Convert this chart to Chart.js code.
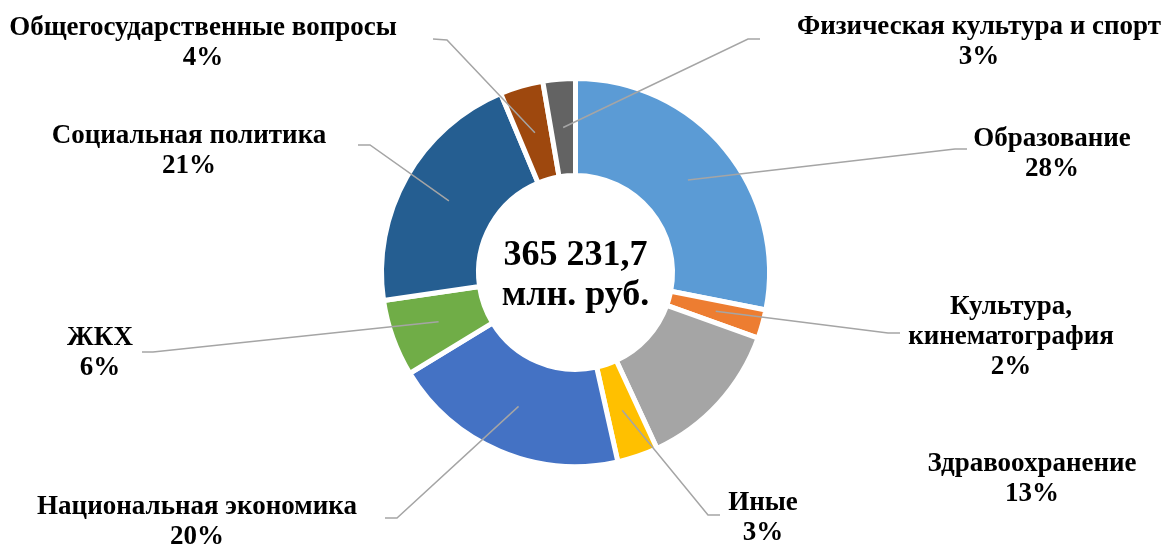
<!DOCTYPE html>
<html lang="ru">
  <head>
    <meta charset="UTF-8" />
    <title>Расходы бюджета</title>
    <script src="https://cdn.jsdelivr.net/npm/chart.js"></script>
    <style>
      html, body {
        margin: 0;
        padding: 0;
        background: #fff;
      }
      #wrap {
        width: 1163px;
        height: 545px;
        position: relative;
      }
    </style>
  </head>
  <body>
    <div id="wrap"><canvas id="budget-chart"></canvas></div>

    <script>
      // данные (доли расходов, %)
      const categories = [
        "Образование",
        "Культура, кинематография",
        "Здравоохранение",
        "Иные",
        "Национальная экономика",
        "ЖКХ",
        "Социальная политика",
        "Общегосударственные вопросы",
        "Физическая культура и спорт",
      ];
      const shares = [28.1, 2.4, 12.6, 3.4, 19.8, 6.4, 21.0, 3.6, 2.7];
      const colors = [
        "#5B9BD5", "#ED7D31", "#A5A5A5", "#FFC000", "#4472C4",
        "#70AD47", "#255E91", "#9E480E", "#636363",
      ];
      const totalText = ["365 231,7", "млн. руб."];

      // размещение подписей: строки, x центра, базовая линия, излом выноски
      const labelLayout = [
        { lines: ["Образование"], x: 1052, y: 146, elbow: [955, 149], end: [967, 149] },
        { lines: ["Культура,", "кинематография"], x: 1011, y: 314, elbow: [888, 333], end: [900, 333] },
        { lines: ["Здравоохранение"], x: 1032, y: 471, elbow: null },
        { lines: ["Иные"], x: 763, y: 510, elbow: [708, 515], end: [720, 515] },
        { lines: ["Национальная экономика"], x: 197, y: 514, elbow: [397, 518], end: [385, 518] },
        { lines: ["ЖКХ"], x: 100, y: 345, elbow: [153, 352], end: [142, 352] },
        { lines: ["Социальная политика"], x: 189, y: 143, elbow: [370, 145], end: [358, 145] },
        { lines: ["Общегосударственные вопросы"], x: 203, y: 35, elbow: [447, 40], end: [433, 39] },
        { lines: ["Физическая культура и спорт"], x: 979, y: 34, elbow: [748, 39], end: [760, 39] },
      ];

      const labelFont = "bold 27px 'Liberation Serif', 'Times New Roman', serif";
      const lineHeight = 30;

      const calloutPlugin = {
        id: "callouts",
        afterDatasetsDraw(chart) {
          const ctx = chart.ctx;
          const arcs = chart.getDatasetMeta(0).data;
          const total = shares.reduce((a, b) => a + b, 0);
          ctx.save();

          // выноски
          ctx.strokeStyle = "#A5A5A5";
          ctx.lineWidth = 1.5;
          arcs.forEach((arc, i) => {
            const l = labelLayout[i];
            if (!l.elbow) return;
            const p = arc.tooltipPosition();
            ctx.beginPath();
            ctx.moveTo(p.x, p.y);
            ctx.lineTo(l.elbow[0], l.elbow[1]);
            ctx.lineTo(l.end[0], l.end[1]);
            ctx.stroke();
          });

          // подписи
          ctx.fillStyle = "#000";
          ctx.font = labelFont;
          ctx.textAlign = "center";
          ctx.textBaseline = "alphabetic";
          labelLayout.forEach((l, i) => {
            const pct = Math.round((shares[i] / total) * 100) + "%";
            const lines = l.lines.concat([pct]);
            lines.forEach((t, k) => ctx.fillText(t, l.x, l.y + k * lineHeight));
          });

          // итог в центре
          const c = arcs[0];
          ctx.font = "bold 36px 'Liberation Serif', 'Times New Roman', serif";
          ctx.fillText(totalText[0], c.x, c.y - 8);
          ctx.fillText(totalText[1], c.x, c.y + 32);
          ctx.restore();
        },
      };

      new Chart(document.getElementById("budget-chart"), {
        type: "doughnut",
        data: {
          labels: categories,
          datasets: [
            {
              data: shares,
              backgroundColor: colors,
              borderColor: "#fff",
              borderWidth: 5,
              hoverOffset: 0,
            },
          ],
        },
        options: {
          responsive: true,
          maintainAspectRatio: false,
          animation: false,
          radius: 194,
          cutout: "50%",
          layout: { padding: { left: 0, right: 12, top: 0, bottom: 0 } },
          plugins: {
            legend: { display: false },
            tooltip: { enabled: false },
          },
        },
        plugins: [calloutPlugin],
      });
    </script>
  </body>
</html>
